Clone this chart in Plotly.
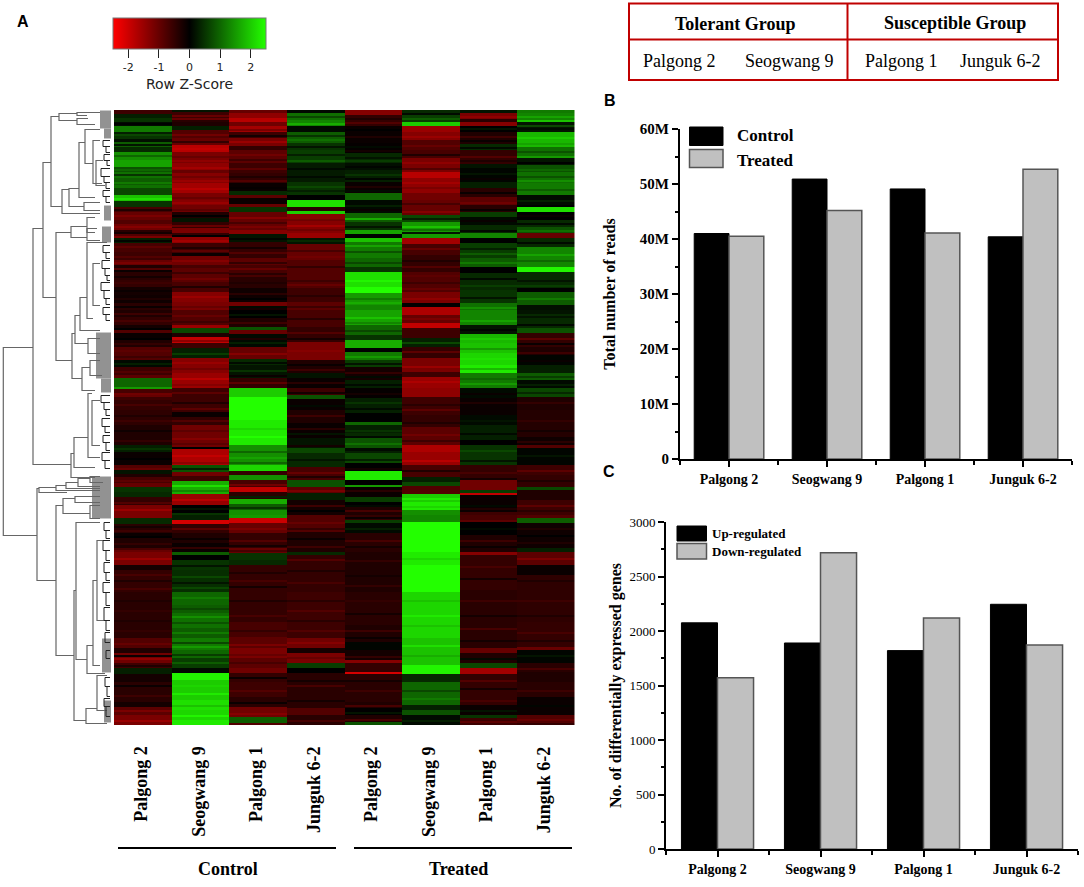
import plotly.graph_objects as go

W, H = 1084, 887

heat_columns = ["Palgong 2", "Seogwang 9", "Palgong 1", "Junguk 6-2", "Palgong 2", "Seogwang 9", "Palgong 1", "Junguk 6-2"]
group_labels = ["Control", "Treated"]
N_ROWS = 615

# each column: (last gene row of the run, row z-score), read top to bottom
c_palgong2 = [(4,-.6),(8,.3),(12,.5),(16,.1),(22,1.2),(26,.3),(29,.5),(32,.15),(37,.9),(42,.4),(50,1.4),(57,1.6),(62,.8),(68,1.1),(75,.9),(80,1.1),(85,.7),(91,1.9),(97,.5),(102,-.7),(110,-1.0),(114,-.8),(120,-1.1),(124,-.4),(128,-.8),(133,.3),(142,-.7),(150,-.6),(155,-1.0),(158,-.3),(162,-.8),(170,-.4),(177,-.5),(185,-.2),(193,-.15),(200,-.4),
  (207,-.3),(215,-.5),(220,-.2),(223,-.8),(230,-.1),(237,-.3),(250,-.8),(257,.1),(265,-.6),(268,-.9),(277,1.0),(279,1.5),(284,-.7),(287,-1.0),(290,-.6),(300,-.5),(315,-.45),(325,-.3),(335,-.3),(342,.3),(355,-.1),(360,-.8),(364,.2),(367,-.3),(373,-.7),(377,-1.0),(382,.5),(387,.4),(395,-.5),(405,-1.2),
  (408,-1.2),(414,.4),(423,-.4),(428,-.1),(438,-.3),(442,-.7),(455,-1.2),(460,-.2),(482,-.5),(528,-.4),(538,-.8),(543,-.3),(553,-1.1),(558,-.6),(564,.3),(572,-.2),(592,-.4),(597,-.2),(605,-.9),(615,-1.2)]
c_seogwang9 = [(2,.2),(8,-.6),(12,-1.0),(16,-.3),(20,.3),(28,-.8),(35,-1.0),(42,-1.8),(53,-1.2),(60,-1.4),(63,-1.0),(73,-1.3),(83,-1.6),(90,-1.2),(95,-1.3),(102,-1.1),(108,-.3),(112,.2),(118,-.5),(123,-1.2),(127,-.5),(133,-1.4),(143,-.6),(146,-.1),(155,-1.1),(158,-.7),(172,-.9),(182,-.7),(192,-1.3),(200,-1.2),
  (215,-.8),(218,-1.5),(223,.7),(227,-.3),(233,-1.9),(238,-.6),(248,.3),(263,-1.3),(278,-1.5),(287,-.6),(302,-.6),(307,-.1),(315,-.5),(323,-1.1),(337,-1.1),(339,0),(355,-1.7),(362,.8),(366,-1.1),(371,-.6),(384,1.7),(395,-1.5),(403,0),(405,.5),
  (410,.3),(414,-2.1),(423,-.5),(433,-.3),(442,-.1),(445,.9),(450,0),(460,.5),(482,.45),(495,1.0),(503,.9),(518,1.1),(528,.9),(540,1.2),(548,1.0),(558,.6),(563,.1),(570,2.4),(590,2.0),(600,2.2),(610,2.1),(615,2.3)]
c_palgong1 = [(5,-1.0),(8,-1.4),(12,-1.8),(16,-1.1),(22,-1.6),(28,-.6),(36,-1.2),(40,-.5),(53,-.9),(63,-.6),(73,-.5),(81,-.1),(85,.4),(88,-.9),(94,-.1),(97,-1.0),(102,.5),(120,-1.0),(124,-1.3),(132,.2),(148,-.5),(155,-.9),(167,-.7),(178,-.4),(192,-.15),(196,-1.1),(200,.1),
  (208,0),(217,-.3),(220,.8),(224,-1.0),(237,.1),(249,-1.0),(255,.4),(268,.2),(278,-.5),(287,2.0),(310,2.7),(335,2.3),(355,1.4),(361,2.1),(365,-.5),(370,1.4),(377,-.7),(382,-1.9),(389,-.4),(394,1.7),(400,.9),(405,1.4),
  (408,1.5),(413,-2.0),(423,-1.0),(438,-.5),(443,-1.0),(450,.5),(455,.4),(482,-.5),(512,-.5),(527,-.7),(538,-.9),(548,-1.2),(558,-.9),(563,-1.1),(572,-.5),(587,-.6),(597,-.4),(607,-1.1),(613,.9),(615,-.8)]
c_junguk62 = [(3,.1),(10,1.1),(16,1.3),(22,.1),(33,.9),(40,.5),(53,.6),(72,.25),(85,.5),(90,0),(97,2.2),(101,-.4),(104,2.0),(123,-1.3),(128,-1.5),(134,.2),(150,-1.0),(162,-.8),(178,-.8),(192,-.6),(200,-.9),
  (217,-.7),(232,-.5),(250,-1.2),(263,-.3),(268,.2),(278,-.1),(285,-.6),(289,.8),(300,-.1),(313,-.3),(328,-.1),(338,.2),(343,.7),(357,.4),(370,-.7),(377,.8),(383,-.9),(390,.3),(405,-.2),
  (422,-.8),(442,-.3),(445,.4),(482,-.5),(528,-.6),(538,-1.1),(543,-.2),(553,-1.2),(558,.6),(563,0),(598,-.4),(605,-.8),(615,-.4)]
t_palgong2 = [(5,-1.3),(16,-.5),(33,-.1),(43,-.05),(53,.4),(60,.15),(72,.3),(83,-.1),(90,1.0),(103,.1),(108,1.0),(110,1.7),(112,.9),(120,.5),(124,1.6),(128,0),(132,1.9),(148,1.2),(157,1.0),(162,.5),(177,2.2),(183,2.6),(195,1.5),(200,1.3),
  (215,1.6),(225,1.0),(230,.5),(238,1.7),(242,0),(250,1.2),(257,.6),(270,-.2),(278,.3),(288,-.05),(303,.3),(312,0),(315,1.0),(323,.3),(328,.4),(338,.8),(343,.1),(353,.7),(361,0),(370,2.3),(375,0),(377,1.5),(387,-.1),(392,.6),(397,0),(405,-.3),
  (410,-.5),(413,.6),(423,.1),(442,-.4),(482,-.3),(515,-.4),(532,-.3),(540,.05),(550,-.2),(553,-1.3),(562,-.5),(564,-2.1),(592,-.4),(598,-.3),(605,0),(612,-.3),(615,.8)]
t_seogwang9 = [(5,.4),(12,.6),(16,2.0),(22,-1.5),(30,-1.3),(40,-.8),(48,-.7),(62,-1.2),(68,-1.8),(83,-1.4),(90,-1.1),(97,-1.0),(105,-1.0),(112,.7),(122,1.5),(124,.2),(128,1.5),(134,-1.6),(145,-.7),(162,-.5),(182,-.8),(193,-1.2),(197,0),(200,-1.7),
  (205,-1.7),(213,-1.0),(218,-1.9),(228,-.6),(237,.3),(248,-.5),(262,-1.2),(267,-.6),(278,-1.5),(287,-1.4),(305,-.6),(317,-.5),(335,-.9),(342,-1.7),(355,-1.5),(367,-.7),(372,.3),(376,.7),(384,-.8),(392,2.0),(400,2.3),(405,1.4),
  (412,1.3),(442,2.8),(455,2.3),(482,2.6),(528,2.1),(555,1.9),(564,2.4),(572,.4),(595,1.0),(600,.3),(605,.8),(615,.1)]
t_palgong1 = [(3,.2),(9,-1.2),(12,-.4),(16,-1.3),(22,0),(34,-.3),(40,.4),(54,-.5),(58,.2),(72,.05),(78,.3),(87,-.4),(95,-.9),(102,-.4),(107,.6),(115,.1),(123,.4),(128,1.3),(133,0),(148,.6),(157,.9),(163,0),(180,.4),(193,.5),(200,1.1),
  (215,1.3),(224,.2),(233,1.8),(243,1.9),(255,2.1),(263,2.3),(278,1.2),(288,.1),(305,-.1),(315,.1),(330,.3),(335,0),(345,.5),(355,.5),(370,-.5),(380,-1.1),(383,.6),(385,-1.9),(402,-.1),(405,-.6),
  (412,-.7),(425,0),(442,-.3),(445,-1.3),(480,-.5),(538,-.4),(543,-1.0),(553,-.3),(558,.7),(564,-1.6),(595,-.5),(605,-.1),(608,.5),(615,-.6)]
t_junguk62 = [(3,1.2),(10,1.3),(12,1.9),(22,.2),(37,1.8),(48,1.1),(55,.2),(62,.8),(73,1.1),(85,1.2),(95,.1),(97,0),(102,2.2),(110,0),(117,.4),(123,.8),(128,-1.0),(137,.4),(157,1.3),(162,2.4),(178,.4),(182,0),(195,.9),(200,.15),
  (208,.2),(218,.4),(223,.8),(237,-.5),(245,-.3),(255,.05),(263,.3),(270,.9),(278,.1),(287,.7),(300,-.3),(327,-.35),(335,-.15),(338,-.8),(355,.05),(365,-.6),(377,-.5),(380,.7),(390,-.3),(405,-.6),
  (408,-.8),(413,.9),(438,-.15),(442,.3),(455,-.9),(465,-.1),(512,-.45),(537,-.5),(540,-1.0),(553,.05),(562,-.4),(572,-.3),(587,-.4),(605,-.1),(613,-.8),(615,-.5)]

all_columns = [c_palgong2, c_seogwang9, c_palgong1, c_junguk62, t_palgong2, t_seogwang9, t_palgong1, t_junguk62]

# thin gene stripes seen inside the runs above: (gene row, z-score)
thin_c_palgong2 = [(13,0),(24,.7),(34,.2),(45,1.0),(59,1.0),(64,.5),(72,1.2),(78,.7),(88,2.2),(99,-.3),(105,-1.2),(116,-1.3),(122,-.2),(126,-1.2),(130,.05),(136,-.9),(146,-.8),(152,-1.2),(160,-.1),(166,-.2),(172,-.6),(180,-.1),(188,-.3),(196,-.1),(203,-.6),(210,-.7),(218,0),(228,0),(233,-.5),(240,-.9),(246,-.6),(253,.3),(261,-.8),(283,-1.1),(294,-.7),(305,-.3),(310,-.6),(320,-.15),(330,-.5),(338,.5),(348,0),(358,-1),(370,-.9),(392,-.8),(399,-1.5),(416,-.2),(420,-.6),(426,0),(433,-.5),(440,-1),(448,-1.5),(464,-.7),(470,-.3),(478,-.7),(490,-.3),(500,-.5),(510,-.3),(520,-.5),(533,-1),(545,-.1),(548,-1.4),(555,-.3),(575,-.1),(585,-.6),(600,-1.2),(610,-1.5)]
thin_c_seogwang9 = [(5,-1.0),(10,-.4),(24,-1.1),(31,-.5),(38,-1.9),(46,-1.0),(50,-1.4),(57,-1.6),(66,-1.1),(70,-1.5),(78,-1.8),(87,-1.0),(92,-1.5),(99,-.9),(105,0),(115,-1.0),(125,0),(130,-1.6),(137,-.3),(140,-.9),(150,-1.3),(162,-.6),(168,-1.1),(176,-.3),(186,-1.5),(196,-1.0),(205,-1.0),(211,-.6),(230,-1.4),(243,.6),(252,-1.5),(258,-1.1),(268,-1.8),(274,-1.3),(282,-.9),(292,-.3),(298,-.9),(310,-.8),(320,-.9),(328,-1.3),(333,-.9),(345,-1.9),(352,-1.4),(358,.3),(375,2.2),(380,1.3),(389,-1.8),(398,.2),(418,-.9),(428,-.1),(437,-.5),(455,.2),(466,.7),(472,.2),(477,.7),(487,1.2),(498,.7),(506,1.4),(512,.8),(522,1.2),(532,.7),(536,1.5),(544,.6),(552,.9),(575,2.1),(583,2.3),(595,1.9),(605,2.4)]
thin_c_palgong1 = [(3,-1.4),(19,-1.2),(25,-.2),(31,-1.5),(44,-1.1),(49,-.6),(58,-.9),(66,-.3),(70,-.8),(77,-.05),(107,-1.3),(112,-.7),(116,-1.2),(128,.05),(137,-.2),(142,-.8),(152,-.5),(158,-1.0),(163,-.4),(172,-.3),(183,-.4),(188,0),(198,-.2),(204,.2),(212,-.6),(228,-.3),(232,.3),(243,-1.3),(252,.1),(260,.5),(265,-.1),(272,-.9),(296,2.8),(318,2.1),(326,2.5),(341,1.0),(347,1.6),(352,1.0),(374,-1.1),(386,.3),(397,.5),(418,-1.2),(430,-.8),(435,-.2),(440,-.7),(462,-.3),(470,-.7),(476,-.2),(490,-.3),(505,-.7),(520,-.5),(534,-1.2),(544,-1.0),(552,-.7),(567,-.1),(580,-.8),(592,-.1),(603,-1.3)]
thin_c_junguk62 = [(6,.7),(13,1.7),(25,.5),(29,1.1),(36,.2),(44,.3),(50,.9),(58,.1),(66,.1),(76,.7),(80,.3),(109,-1.1),(115,-1.6),(119,-1.1),(130,.4),(140,-.7),(146,-1.1),(156,-.5),(170,-.6),(174,-1),(185,-.4),(196,-.6),(208,-.4),(222,-.8),(228,-.2),(240,-1.3),(254,-.1),(259,-.6),(272,-.4),(282,-.2),(295,.1),(305,-.6),(318,-.4),(323,.2),(335,-.2),(349,.2),(362,-1),(366,-.3),(380,-1.2),(395,-.6),(400,0),(412,-1.0),(418,-.5),(428,-.1),(436,-.6),(449,-.8),(460,-.3),(472,-.7),(490,-.4),(500,-.8),(510,-.4),(520,-.8),(532,-1.3),(547,-1.0),(570,-.2),(575,-.7),(590,-.2),(610,-.7)]
thin_t_palgong2 = [(8,-.3),(12,-.8),(19,0),(26,-.3),(36,.1),(40,-.2),(47,.2),(50,.6),(56,.05),(64,.5),(68,.05),(76,-.3),(80,.1),(95,.3),(99,-.1),(116,.2),(135,1.6),(141,.8),(152,.7),(170,2.4),(188,1.2),(192,1.7),(207,1.9),(212,1.3),(220,.7),(246,1.5),(253,.2),(262,-.5),(266,.1),(274,.1),(283,-.2),(292,.5),(298,.1),(320,.5),(326,.1),(333,1.1),(341,.3),(349,.3),(358,-.2),(380,-.4),(395,.1),(400,-.7),(407,-.1),(418,.3),(430,-.7),(436,-.2),(450,-.5),(465,-.2),(475,-.5),(490,-.5),(503,-.2),(520,-.6),(527,-.1),(546,-.5),(570,-.2),(580,-.6),(595,-.7),(602,.2),(609,-.7)]
thin_t_seogwang9 = [(3,.1),(8,.9),(26,-1.5),(35,-1.0),(44,-.3),(52,-1.4),(58,-.8),(72,-1.6),(77,-1.2),(93,-.7),(101,-1.3),(108,.3),(116,1.9),(119,1.1),(138,-1.0),(150,-.3),(156,-.8),(165,-.9),(172,-.6),(178,-1.0),(188,-1.4),(208,-1.2),(232,.7),(241,-.9),(256,-1.5),(271,-1.7),(294,-.4),(299,-.9),(312,-.3),(324,-1.1),(330,-.6),(350,-1.8),(360,-.3),(388,2.3),(396,2.1),(420,2.9),(448,2.1),(470,2.8),(490,1.9),(505,2.3),(515,1.9),(535,2.2),(545,1.7),(580,.7),(588,1.2),(610,.3)]
thin_t_palgong1 = [(6,-1.4),(18,.2),(26,-.6),(30,-.1),(37,.1),(46,-.8),(50,-.3),(63,.2),(68,-.1),(82,-.1),(92,-1.1),(99,-.1),(110,-.1),(120,.1),(138,.3),(143,.9),(152,1.2),(168,.1),(175,.6),(187,.2),(197,1.4),(210,1.6),(219,.05),(228,2.0),(238,1.5),(248,2.2),(258,1.8),(268,1.0),(273,1.5),(283,-.1),(292,-.3),(310,.2),(323,.1),(340,.7),(350,.2),(362,-.7),(368,-.2),(395,.1),(398,-.3),(410,-.9),(418,.1),(430,-.6),(436,-.1),(456,-.7),(468,-.2),(490,-.6),(505,-.2),(518,-.7),(530,-.2),(548,.1),(570,-.8),(578,-.2),(590,-.7),(600,.2),(611,-.9)]
thin_t_junguk62 = [(6,1.6),(15,.7),(18,.1),(27,2.0),(33,1.6),(41,.8),(46,1.5),(52,0),(59,1.0),(66,.8),(70,1.4),(79,.9),(90,.3),(105,-.1),(113,.1),(120,1.1),(132,.1),(144,1.6),(150,1.0),(170,.2),(175,.6),(188,1.2),(204,.4),(214,.1),(228,-.9),(233,-.1),(242,-.6),(250,-.1),(266,.6),(274,.3),(282,.4),(292,-.5),(310,-.5),(320,-.2),(331,-.4),(345,.2),(360,-.9),(370,-.3),(395,-.9),(400,-.4),(418,-.3),(425,0),(432,-.3),(448,-1.2),(470,-.3),(490,-.6),(505,-.3),(522,-.7),(530,-.3),(545,.2),(558,-.7),(580,-.6),(595,.05),(609,-1.0)]
all_thin = [thin_c_palgong2, thin_c_seogwang9, thin_c_palgong1, thin_c_junguk62, thin_t_palgong2, thin_t_seogwang9, thin_t_palgong1, thin_t_junguk62]

# dendrogram merges: height, top row, top child height, bottom row, bottom child height
merges = [(3.3,237,33,425,37),(33,118,43,354,71),(43,52,51,187,56),(51,6,59,96,62),(59,3,77,10,77),(77,2,100,5,87),(77,8,88,14,95),
 (62,79,69,103,100),(69,78,79,96,84),(79,32,85,87,95),(85,19,100,53,93),(93,30,100,73,102),(96,50,103,75,105),(84,92,100,100,100),
 (56,122,71,250,72),(71,116,87,127,87),(87,107,95,122,95),(87,118,97,130,100),(72,223,75,268,82),(75,205,80,233,88),(80,187,87,220,100),
 (87,132,107,208,93),(93,153,100,195,100),(88,228,100,243,100),(82,257,90,280,95),(90,250,100,265,102),
 (71,343,74,367,95),(74,327,88,357,95),(88,283,92,347,100),(92,290,100,335,100),
 (37,378,39,470,56),(39,377,56,382,67),(56,375,66,380,100),(66,372,78,378,100),(78,368,90,376,100),(90,366,100,372,103),
 (56,395,63,545,74),(63,388,75,403,90),(75,386,100,392,100),(90,395,100,408,100),(74,480,76,610,86),(76,412,100,549,87),
 (87,535,93,563,105),(93,470,97,555,100),(97,430,103,510,105),(86,598,97,613,107),(97,565,107,600,107)]
# fine leaf-side merges: height, top row, bottom row
fine_merges = [(103,30,36),(106,36,42),(104,44,50),(107,50,55),(101,58,66),(104,66,72),(106,72,78),(103,80,86),(106,86,92),
 (103,135,142),(106,142,148),(102,150,158),(105,158,165),(107,165,170),(101,172,180),(104,180,188),(106,188,194),(103,197,204),(106,204,210),
 (101,285,292),(104,292,299),(106,299,305),(102,308,316),(105,316,322),(103,325,332),(106,332,340),(102,342,350),(105,350,358),
 (104,412,420),(106,420,428),(103,430,440),(106,440,450),(104,452,462),(106,462,470),(103,472,482),(106,482,495),(104,497,510),(106,510,520),(105,522,532),
 (106,540,548),(105,567,576),(107,576,586),(104,588,596),(106,596,606)]
# leaf bands: top row, bottom row, leaf start height
leaf_bands = [(0,18,100),(18,28,104),(95,110,104),(116,132,102),(222,268,96),(268,282,101),(366,408,92),(528,562,102),(590,612,104)]

read_samples = ["Palgong 2", "Seogwang 9", "Palgong 1", "Junguk 6-2"]
reads_control = [41.0e6, 50.9e6, 49.1e6, 40.4e6]
reads_treated = [40.5e6, 45.2e6, 41.1e6, 52.7e6]
reads_ticks = [0, 10e6, 20e6, 30e6, 40e6, 50e6, 60e6]
reads_ticklabels = ["0", "10M", "20M", "30M", "40M", "50M", "60M"]

deg_up = [2075, 1890, 1820, 2245]
deg_down = [1570, 2718, 2120, 1872]
deg_ticks = [0, 500, 1000, 1500, 2000, 2500, 3000]

table_head = ["Tolerant Group", "Susceptible Group"]
table_cells = ["Palgong 2", "Seogwang 9", "Palgong 1", "Junguk 6-2"]

SERIF = "Liberation Serif"
SANS = "Liberation Sans"
GRAY = "#c0c0c0"
EDGE = "#555555"
RED = "#c00000"


def px(x):
    return x / W


def py(y):
    return 1 - y / H


def dom_x(a, b):
    return [a / W, b / W]


def dom_y(top, bottom):
    return [1 - bottom / H, 1 - top / H]


def expand(runs, thin):
    out, start = [], 0
    for end, val in runs:
        out.extend([val] * (end - start))
        start = end
    for row, val in thin:
        out[row] = val
        out[row + 1] = val
    return out


cols = [expand(r, t) for r, t in zip(all_columns, all_thin)]
z = [[cols[c][r] for c in range(len(cols))] for r in range(N_ROWS)]

fig = go.Figure()

fig.add_trace(go.Heatmap(
    z=z, x=list(range(8)), y=list(range(N_ROWS)), xaxis="x", yaxis="y",
    zmin=-2.5, zmax=2.5,
    colorscale=[[0, "rgb(255,0,0)"], [0.5, "rgb(0,0,0)"], [1, "rgb(35,255,0)"]],
    colorbar=dict(orientation="h", x=px(113), xanchor="left", y=py(18), yanchor="top",
                  len=153, lenmode="pixels", thickness=31, thicknessmode="pixels",
                  xpad=0, ypad=0, outlinecolor="#777777", outlinewidth=1,
                  tickmode="array", tickvals=[-2, -1, 0, 1, 2], ticktext=["-2", "-1", "0", "1", "2"],
                  ticks="outside", ticklen=9, tickwidth=1, tickcolor="#222222",
                  tickfont=dict(family="DejaVu Sans", size=11, color="#222222"),
                  title=dict(text="Row Z-Score", side="bottom",
                             font=dict(family="DejaVu Sans", size=14, color="#222222"))),
))

# dendrogram
lx, ly = [], []
for h, r0, c0, r1, c1 in merges:
    lx += [c0, h, h, c1, None]
    ly += [r0, r0, r1, r1, None]
fig.add_trace(go.Scatter(x=lx, y=ly, mode="lines", xaxis="x2", yaxis="y",
                         line=dict(color="#666666", width=1.2), showlegend=False, hoverinfo="skip"))
fx, fy = [], []
for h, r0, r1 in fine_merges:
    fx += [110, h, h, 110, None]
    fy += [r0, r0, r1, r1, None]
fig.add_trace(go.Scatter(x=fx, y=fy, mode="lines", xaxis="x2", yaxis="y",
                         line=dict(color="#222222", width=1), showlegend=False, hoverinfo="skip"))
fig.add_trace(go.Bar(
    orientation="h", xaxis="x2", yaxis="y",
    y=[(a + b) / 2 for a, b, _ in leaf_bands], width=[b - a for a, b, _ in leaf_bands],
    base=[s for _, _, s in leaf_bands], x=[111 - s for _, _, s in leaf_bands],
    marker=dict(color="#808080", line=dict(width=0)), opacity=0.85, showlegend=False, hoverinfo="skip"))

# panel B
rx = list(range(len(read_samples)))
fig.add_trace(go.Bar(x=rx, y=reads_control, name="Control", xaxis="x3", yaxis="y3", offsetgroup="a",
                     marker=dict(color="#000000", line=dict(color="#000000", width=1)), showlegend=False))
fig.add_trace(go.Bar(x=rx, y=reads_treated, name="Treated", xaxis="x3", yaxis="y3", offsetgroup="b",
                     marker=dict(color=GRAY, line=dict(color=EDGE, width=1.5)), showlegend=False))
# panel C
fig.add_trace(go.Bar(x=rx, y=deg_up, name="Up-regulated", xaxis="x4", yaxis="y4", offsetgroup="c",
                     marker=dict(color="#000000", line=dict(color="#000000", width=1)), showlegend=False))
fig.add_trace(go.Bar(x=rx, y=deg_down, name="Down-regulated", xaxis="x4", yaxis="y4", offsetgroup="d",
                     marker=dict(color=GRAY, line=dict(color=EDGE, width=1.5)), showlegend=False))

tick_b = dict(family=SERIF, size=15, color="black", weight="bold")


def bar_xaxis(domain, anchor):
    return dict(domain=domain, anchor=anchor, range=[-0.5, 3.5], tickmode="array", tickvals=rx, ticktext=read_samples,
                ticks="outside", ticklen=6, tickwidth=1.5, tickcolor="black", showline=True, linecolor="black",
                linewidth=2, showgrid=False, zeroline=False,
                tickfont=dict(family=SERIF, size=14, color="black", weight="bold"),
                minor=dict(tickmode="array", tickvals=[-0.5, 0.5, 1.5, 2.5, 3.5], ticks="outside", ticklen=4,
                           tickwidth=1.5, tickcolor="black", showgrid=False))


fig.update_layout(
    width=W, height=H, margin=dict(l=0, r=0, t=0, b=0, autoexpand=False), paper_bgcolor="white", plot_bgcolor="white",
    barmode="overlay", bargap=0.29, bargroupgap=0, showlegend=False,
    xaxis=dict(domain=dom_x(114, 574.5), anchor="y", range=[-0.5, 7.5], showticklabels=False, ticks="",
               showgrid=False, zeroline=False, showline=False),
    yaxis=dict(domain=dom_y(110, 725), anchor="x", range=[N_ROWS - 0.5, -0.5], visible=False),
    xaxis2=dict(domain=dom_x(0, 111), anchor="y", range=[0, 111], visible=False),
    xaxis3=bar_xaxis(dom_x(680, 1072), "y3"),
    yaxis3=dict(domain=dom_y(129, 459), anchor="x3", range=[0, 60e6], tickmode="array", tickvals=reads_ticks,
                ticktext=reads_ticklabels, ticks="outside", ticklen=6, tickwidth=1.5, tickcolor="black",
                showline=True, linecolor="black", linewidth=2, showgrid=False, zeroline=False, tickfont=tick_b,
                minor=dict(tickmode="array", tickvals=[5e6, 15e6, 25e6, 35e6, 45e6, 55e6], ticks="outside", ticklen=3,
                           tickwidth=1.5, tickcolor="black", showgrid=False),
                title=dict(text="Total number of reads", standoff=20,
                           font=dict(family=SERIF, size=16, color="black", weight="bold"))),
    xaxis4=bar_xaxis(dom_x(666, 1078), "y4"),
    yaxis4=dict(domain=dom_y(522, 849), anchor="x4", range=[0, 3000], tickmode="array", tickvals=deg_ticks,
                ticks="outside", ticklen=6, tickwidth=1.5, tickcolor="black",
                showline=True, linecolor="black", linewidth=2, showgrid=False, zeroline=False,
                tickfont=dict(family=SERIF, size=13, color="black"),
                minor=dict(tickmode="array", tickvals=[250, 750, 1250, 1750, 2250, 2750], ticks="outside", ticklen=3,
                           tickwidth=1.5, tickcolor="black", showgrid=False),
                title=dict(text="No. of differentially expressed genes", standoff=4,
                           font=dict(family=SERIF, size=16, color="black", weight="bold"))),
)

# side-by-side bars: two overlaid groups with explicit offsets
for t in fig.data:
    if t.xaxis == "x3":
        t.width = 0.355
        t.offset = -0.355 if t.name == "Control" else 0
    if t.xaxis == "x4":
        t.width = 0.35
        t.offset = -0.35 if t.name == "Up-regulated" else 0

shapes, notes = [], []


def rect(x0, y0, x1, y1, fill=None, line=None, lw=1):
    shapes.append(dict(type="rect", xref="paper", yref="paper", x0=px(x0), x1=px(x1), y0=py(y0), y1=py(y1),
                       fillcolor=fill or "rgba(0,0,0,0)", line=dict(color=line or "rgba(0,0,0,0)", width=lw)))


def hline(x0, x1, y, color, lw):
    shapes.append(dict(type="line", xref="paper", yref="paper", x0=px(x0), x1=px(x1), y0=py(y), y1=py(y),
                       line=dict(color=color, width=lw)))


def vline(x, y0, y1, color, lw):
    shapes.append(dict(type="line", xref="paper", yref="paper", x0=px(x), x1=px(x), y0=py(y0), y1=py(y1),
                       line=dict(color=color, width=lw)))


def note(x, y, text, family=SERIF, size=14, bold=False, anchor="center"):
    notes.append(dict(xref="paper", yref="paper", x=px(x), y=py(y), text=text, showarrow=False,
                      xanchor=anchor, yanchor="middle",
                      font=dict(family=family, size=size, color="black", weight="bold" if bold else "normal")))


# column labels, rotated, hanging just below the heatmap
for i, label in enumerate(heat_columns):
    notes.append(dict(xref="x", yref="paper", x=i, xshift=-2, y=py(744), yanchor="top", xanchor="center",
                      text=label, textangle=-90, showarrow=False,
                      font=dict(family=SERIF, size=18, color="black", weight="bold")))

# z-score key marker
vline(212.5, 18, 49, "white", 1.5)

# group brackets
hline(118, 336, 848, "black", 2)
hline(354, 572, 848, "black", 2)
note(227.5, 869, group_labels[0], size=18, bold=True)
note(458, 869, group_labels[1], size=18, bold=True)

# group table
rect(629, 3.5, 1058, 80, line=RED, lw=2)
hline(629, 1058, 39.5, RED, 2)
vline(847.5, 3.5, 80, RED, 2)
note(735, 24, table_head[0], size=18, bold=True)
note(955, 23.5, table_head[1], size=18, bold=True)
for xc, label in zip([679, 789, 901, 1000], table_cells):
    note(xc, 61, label, size=18)

# legends
rect(689.5, 127, 723, 145.5, fill="black", line="black", lw=1)
rect(689.5, 149.5, 723, 167.5, fill=GRAY, line=EDGE, lw=1.5)
note(735, 135.5, "Control", size=17, bold=True, anchor="left")
note(735, 160, "Treated", size=17, bold=True, anchor="left")
rect(677, 526, 706.5, 541, fill="black", line="black", lw=1)
rect(677, 543.5, 706.5, 559, fill=GRAY, line=EDGE, lw=1.5)
note(710, 533.5, "Up-regulated", size=13, bold=True, anchor="left")
note(710, 551.5, "Down-regulated", size=13, bold=True, anchor="left")

# panel letters
note(15, 22, "A", family=SANS, size=16, bold=True, anchor="left")
note(602, 100, "B", family=SANS, size=16, bold=True, anchor="left")
note(601, 471, "C", family=SANS, size=16, bold=True, anchor="left")

fig.update_layout(shapes=shapes, annotations=notes)

fig.write_html("out.html", config=dict(displayModeBar=False),
               post_script="document.body.style.margin='0';document.documentElement.style.overflow='hidden';")
